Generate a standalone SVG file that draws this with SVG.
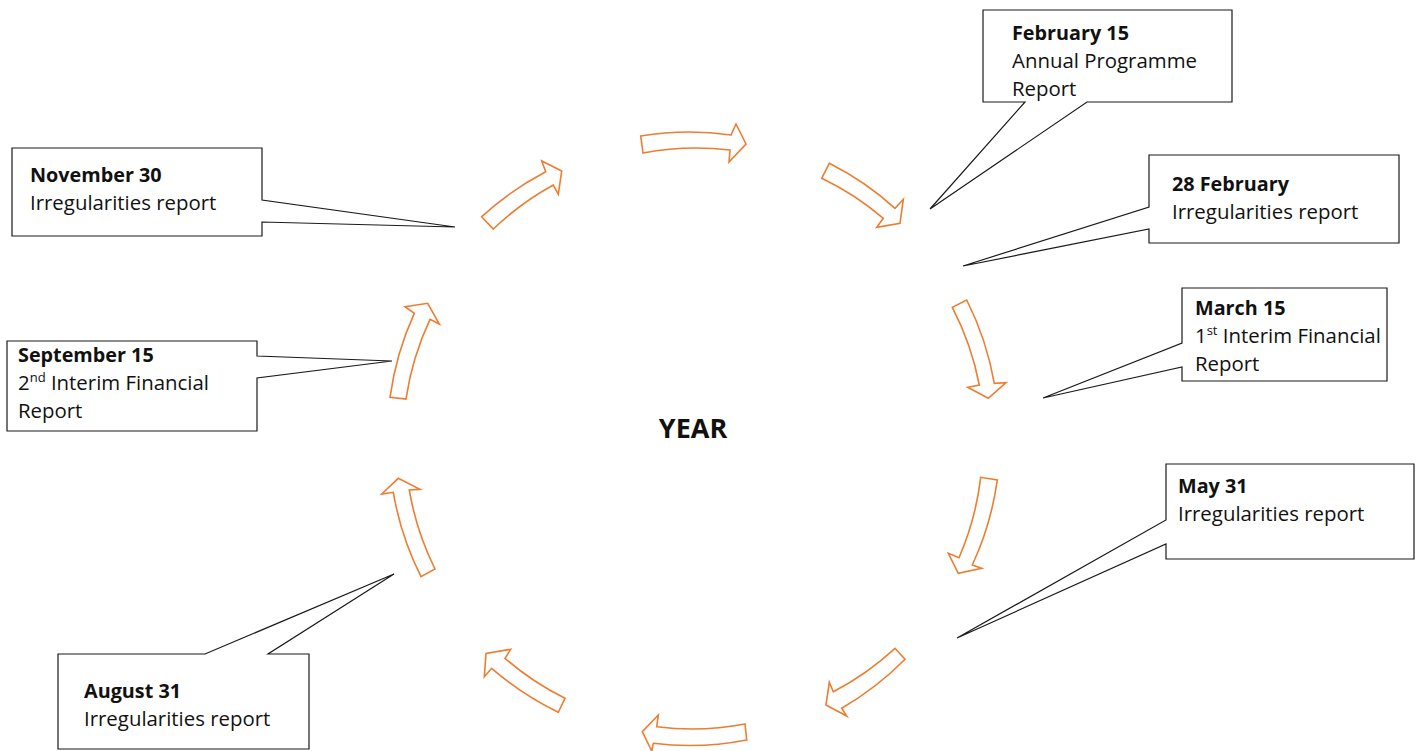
<svg xmlns="http://www.w3.org/2000/svg" width="1418" height="751" viewBox="0 0 1418 751">
<style>
.bg{fill:#ffffff}
.callout{fill:#ffffff;stroke:#1a1a1a;stroke-width:1.2;stroke-linejoin:miter}
.arrow{fill:#ffffff;stroke:#ED7D31;stroke-width:1.6;stroke-linejoin:miter}
text{font-family:"Open Sans","Liberation Sans",Arial,sans-serif;font-size:20.4px;fill:#111111}
.b{font-weight:bold;font-size:19.8px}
.sup{font-size:13px}
.year{font-size:27px;font-weight:bold;text-anchor:middle}
</style>
<rect class="bg" x="0" y="0" width="1418" height="751"/>

<g id="connectors">
  <path class="arrow" d="M640.7,136 A300,300 0 0 1 731,135 L736,124 L746,144 L729,162 L730,150 A285,285 0 0 0 643,153 Z"/>
  <path class="arrow" d="M829.3,163.3 A300,300 0 0 1 895,208.3 L903.3,199.3 L900,223.3 L876.7,227.3 L883.3,218.3 A285,285 0 0 0 821.7,178.3 Z"/>
  <path class="arrow" d="M966.7,300 A300,300 0 0 1 994.3,383.3 L1006,382.7 L988.3,398.3 L967.7,387.3 L979.3,385 A285,285 0 0 0 952.3,307.3 Z"/>
  <path class="arrow" d="M997.3,480 A300,300 0 0 1 972.3,565 L981.7,568.3 L958.3,573.3 L948.3,553.3 L959,557.7 A285,285 0 0 0 980.7,477.3 Z"/>
  <path class="arrow" d="M905,659.3 A300,300 0 0 1 841.7,708.3 L846.7,716 L826,705 L829.3,682.3 L833.3,691.7 A285,285 0 0 0 895,648.3 Z"/>
  <path class="arrow" d="M746.7,740 A300,300 0 0 1 653.3,743.3 L651.7,751 L642.3,731.7 L658.3,715 L656.7,726.7 A285,285 0 0 0 745,724 Z"/>
  <path class="arrow" d="M558.3,712.3 A300,300 0 0 1 491.7,668.3 L484.3,676.7 L486,653.5 L510.7,649.3 L505,658.3 A285,285 0 0 0 565,698.3 Z"/>
  <path class="arrow" d="M421,576.7 A300,300 0 0 1 393.3,492.3 L381.7,494 L398.3,478.3 L420,489.3 L409.3,490 A285,285 0 0 0 435,569 Z"/>
  <path class="arrow" d="M390,397.3 A300,300 0 0 1 414.3,313.3 L405,306.7 L427.7,303.3 L439.3,324 L430,319.3 A285,285 0 0 0 406,399 Z"/>
  <path class="arrow" d="M481.7,216.7 A300,300 0 0 1 545.7,171.7 L541.7,161 L561.7,171 L558.3,194.3 L553.3,185 A285,285 0 0 0 493.3,229 Z"/>
</g>

<g id="year">
  <text class="year" x="693" y="438">YEAR</text>
</g>

<g id="feb15">
  <path class="callout" d="M983,10 H1232 V102 H1087 L930,209 L1025,102 H983 Z"/>
  <text x="1012" y="40" class="b">February 15</text>
  <text x="1012" y="68">Annual Programme</text>
  <text x="1012" y="96">Report</text>
</g>

<g id="feb28">
  <path class="callout" d="M1149,155 H1399 V243 H1149 V229 L963,266 L1149,207 Z"/>
  <text x="1172" y="191" class="b">28 February</text>
  <text x="1172" y="219">Irregularities report</text>
</g>

<g id="mar15">
  <path class="callout" d="M1182,288 H1387 V381 H1182 V367 L1043,398 L1182,343 Z"/>
  <text x="1195" y="315" class="b">March 15</text>
  <text x="1195" y="343">1<tspan class="sup" dy="-8">st</tspan><tspan dy="8"> Interim Financial</tspan></text>
  <text x="1195" y="371">Report</text>
</g>

<g id="may31">
  <path class="callout" d="M1166,464 H1414 V559 H1166 V544 L957,638 L1166,520 Z"/>
  <text x="1178" y="493" class="b">May 31</text>
  <text x="1178" y="521">Irregularities report</text>
</g>

<g id="aug31">
  <path class="callout" d="M58,654 H205 L394,574 L268,654 H309 V749 H58 Z"/>
  <text x="84" y="698" class="b">August 31</text>
  <text x="84" y="726">Irregularities report</text>
</g>

<g id="nov30">
  <path class="callout" d="M12,148 H262 V200 L455,227 L262,222 V236 H12 Z"/>
  <text x="30" y="182" class="b">November 30</text>
  <text x="30" y="210">Irregularities report</text>
</g>

<g id="sep15">
  <path class="callout" d="M7,341 H257 V356 L392,361 L257,378 V431 H7 Z"/>
  <text x="18" y="362" class="b">September 15</text>
  <text x="18" y="390">2<tspan class="sup" dy="-8">nd</tspan><tspan dy="8"> Interim Financial</tspan></text>
  <text x="18" y="418">Report</text>
</g>
</svg>
